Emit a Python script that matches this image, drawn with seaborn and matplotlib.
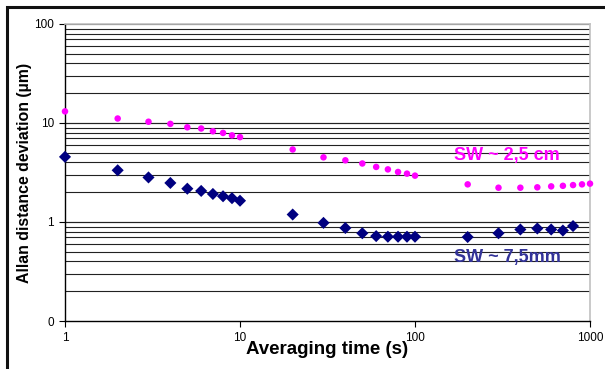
import numpy as np
import pandas as pd
import seaborn as sns
import matplotlib.pyplot as plt
from matplotlib.patches import Rectangle
from matplotlib.ticker import FixedLocator, FixedFormatter, NullFormatter

# averaging times (s)
tau_25cm = [1, 2, 3, 4, 5, 6, 7, 8, 9, 10,
            20, 30, 40, 50, 60, 70, 80, 90, 100,
            200, 300, 400, 500, 600, 700, 800, 900, 1000]
adev_25cm = [13.1, 11.1, 10.3, 9.8, 9.05, 8.8, 8.25, 7.94, 7.5, 7.2,
             5.4, 4.5, 4.2, 3.9, 3.6, 3.4, 3.2, 3.08, 2.94,
             2.4, 2.22, 2.22, 2.24, 2.29, 2.32, 2.36, 2.4, 2.44]

tau_75mm = [1, 2, 3, 4, 5, 6, 7, 8, 9, 10,
            20, 30, 40, 50, 60, 70, 80, 90, 100,
            200, 300, 400, 500, 600, 700, 800]
adev_75mm = [4.55, 3.33, 2.82, 2.48, 2.17, 2.06, 1.92, 1.82, 1.74, 1.64,
             1.19, 0.98, 0.87, 0.77, 0.72, 0.71, 0.71, 0.71, 0.71,
             0.705, 0.77, 0.84, 0.86, 0.84, 0.82, 0.91]

x_ticks = [1, 10, 100, 1000]
x_labels = ["1", "10", "100", "1000"]
y_ticks = [0.1, 1, 10, 100]
y_labels = ["0", "1", "10", "100"]

sns.set_style("white")
plt.rcParams['font.family'] = ['Liberation Sans', 'DejaVu Sans']
plt.rcParams['text.color'] = 'black'
plt.rcParams['axes.labelcolor'] = 'black'
plt.rcParams['xtick.color'] = 'black'
plt.rcParams['ytick.color'] = 'black'

df1 = pd.DataFrame({"tau": tau_25cm, "adev": adev_25cm})
df2 = pd.DataFrame({"tau": tau_75mm, "adev": adev_75mm})

fig = plt.figure(figsize=(6.05, 3.69), dpi=100)
ax = fig.add_axes([65 / 605, 48 / 369, 525 / 605, 297 / 369])

ax.set_xscale("log")
ax.set_yscale("log")
ax.set_xlim(1, 1000)
ax.set_ylim(0.1, 100)

# horizontal grid at every minor/major log tick
for dec in [0.1, 1, 10]:
    for m in range(1, 11):
        v = dec * m
        if 0.1 < v <= 100:
            ax.axhline(v, color="#222222", lw=0.8, zorder=1)

sns.scatterplot(data=df1, x="tau", y="adev", ax=ax, color="#FF00FF",
                marker="o", s=22, edgecolor="none", zorder=3, legend=False,
                clip_on=False)
sns.scatterplot(data=df2, x="tau", y="adev", ax=ax, color="#000080",
                marker="D", s=38, edgecolor="none", zorder=3, legend=False,
                clip_on=False)

ax.xaxis.set_major_locator(FixedLocator(x_ticks))
ax.xaxis.set_major_formatter(FixedFormatter(x_labels))
ax.yaxis.set_major_locator(FixedLocator(y_ticks))
ax.yaxis.set_major_formatter(FixedFormatter(y_labels))
ax.xaxis.set_minor_formatter(NullFormatter())
ax.yaxis.set_minor_formatter(NullFormatter())
ax.tick_params(which="minor", length=0)
ax.tick_params(which="major", direction="out", length=4, width=0.8,
               labelsize=8.5, color="black", pad=4)
ax.tick_params(axis="both", which="major", bottom=True, left=True)

for s in ["left", "bottom"]:
    ax.spines[s].set_color("black")
    ax.spines[s].set_linewidth(1.0)
for s in ["right", "top"]:
    ax.spines[s].set_color("#c0c0c0")
    ax.spines[s].set_linewidth(1.2)

ax.set_xlabel("Averaging time (s)", fontsize=13.5, fontweight="bold")
ax.set_ylabel("Allan distance deviation (µm)", fontsize=11.4, fontweight="bold")
ax.xaxis.set_label_coords(0.5, -0.068)
ax.yaxis.set_label_coords(-0.062, 0.5)

ax.text(168, 4.7, "SW ~ 2,5 cm", color="#FF00FF", fontsize=13,
        fontweight="bold", ha="left", va="center")
ax.text(168, 0.44, "SW ~ 7,5mm", color="#333399", fontsize=13,
        fontweight="bold", ha="left", va="center")

fig.patches.append(Rectangle((7 / 605, -0.1), 1.2, (362 / 369) + 0.1,
                             transform=fig.transFigure, fill=False,
                             edgecolor="#111111", lw=2.2))

fig.savefig("out.png", dpi=100)
